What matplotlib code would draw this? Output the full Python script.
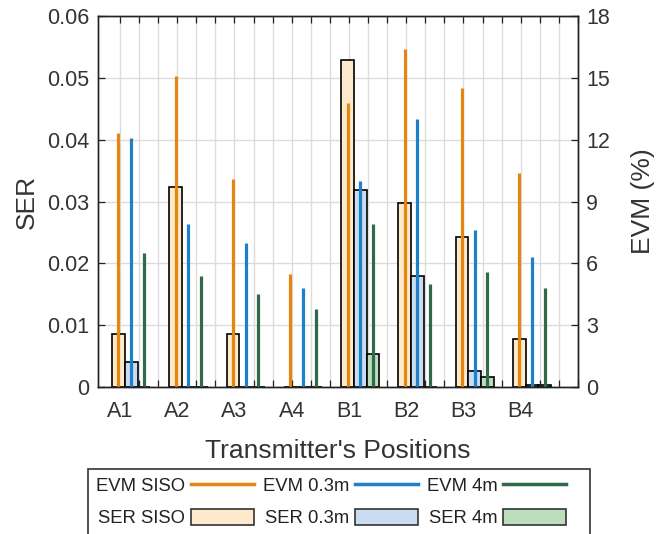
import numpy as np
import matplotlib
matplotlib.use("Agg")
import matplotlib.pyplot as plt
from matplotlib.patches import Patch, Rectangle
from matplotlib.lines import Line2D

plt.rcParams['font.family'] = ['Liberation Sans', 'DejaVu Sans']

positions = ["A1", "A2", "A3", "A4", "B1", "B2", "B3", "B4"]

ser_siso = [0.0086, 0.0324, 0.0086, 0.0, 0.0529, 0.0298, 0.0242, 0.0077]
ser_03m = [0.0041, 0.0, 0.0, 0.0, 0.0318, 0.0179, 0.0026, 0.0004]
ser_4m = [0.0, 0.0, 0.0, 0.0, 0.0053, 0.0, 0.0016, 0.0003]

evm_siso = [12.3, 15.1, 10.1, 5.5, 13.8, 16.4, 14.5, 10.4]
evm_03m = [12.1, 7.9, 7.0, 4.8, 10.0, 13.0, 7.6, 6.3]
evm_4m = [6.5, 5.4, 4.5, 3.8, 7.9, 5.0, 5.6, 4.8]

ser_ticks = [0, 0.01, 0.02, 0.03, 0.04, 0.05, 0.06]
ser_ticklabels = ["0", "0.01", "0.02", "0.03", "0.04", "0.05", "0.06"]
evm_ticks = [0, 3, 6, 9, 12, 15, 18]

c_or = '#E5860F'
c_bl = '#1E7FCB'
c_gr = '#2F6B4B'
f_or = '#FDE9CC'
f_bl = '#C9DCF2'
f_gr = '#BCDDBC'
txt = '#333333'

W, H = 657, 534
fig = plt.figure(figsize=(W / 100, H / 100), dpi=100)
ax = fig.add_axes([98 / W, (H - 387) / H, 480 / W, 371 / H])
ax2 = ax.twinx()

x = np.arange(1, len(positions) + 1)
bw = 0.222
offs = [-0.026, -0.026 + bw, -0.026 + 2 * bw]

ax.set_axisbelow(True)
ax.bar(x + offs[0], ser_siso, width=bw, color=f_or, edgecolor='black', linewidth=1.2, zorder=2)
ax.bar(x + offs[1], ser_03m, width=bw, color=f_bl, edgecolor='black', linewidth=1.2, zorder=2)
ax.bar(x + offs[2], ser_4m, width=bw, color=f_gr, edgecolor='black', linewidth=1.2, zorder=2)

ax2.vlines(x + offs[0], 0, evm_siso, color=c_or, linewidth=2.3)
ax2.vlines(x + offs[1], 0, evm_03m, color=c_bl, linewidth=2.3)
ax2.vlines(x + offs[2], 0, evm_4m, color=c_gr, linewidth=2.3)

ax.set_xlim(0.616, 9.0)
ax.set_ylim(0, 0.06)
ax2.set_ylim(0, 18)

xt = np.arange(1, 9.001, 1 / 3)
xl = []
for t in xt:
    k = int(round(t))
    xl.append(positions[k - 1] if abs(t - k) < 1e-6 and k <= len(positions) else "")
ax.set_xticks(xt)
ax.set_xticklabels(xl)
ax.set_yticks(ser_ticks)
ax.set_yticklabels(ser_ticklabels)
ax2.set_yticks(evm_ticks)

ax.grid(True, color='#dcdcdc', linewidth=1.0)
ax.tick_params(axis='x', direction='in', top=True, length=5, width=0.9, pad=10,
               labelsize=15.5, labelcolor=txt, color='#222222')
ax.tick_params(axis='y', direction='in', length=5, width=0.9, pad=6,
               labelsize=15.5, labelcolor=txt, color='#222222')
ax2.tick_params(axis='y', direction='in', length=5, width=0.9, pad=6,
                labelsize=15.5, labelcolor=txt, color='#222222')
for a in (ax, ax2):
    for s in a.spines.values():
        s.set_color('#222222')
        s.set_linewidth(1.0)

ax.set_xlabel("Transmitter's Positions", fontsize=19, color=txt, labelpad=12)
ax.set_ylabel("SER", fontsize=19, color=txt, labelpad=6)
ax2.set_ylabel("EVM (%)", fontsize=19, color=txt, labelpad=15)

handles = [
    Line2D([], [], color=c_or, linewidth=2.5),
    Patch(facecolor=f_or, edgecolor='#333333', linewidth=1.2),
    Line2D([], [], color=c_bl, linewidth=2.5),
    Patch(facecolor=f_bl, edgecolor='#333333', linewidth=1.2),
    Line2D([], [], color=c_gr, linewidth=2.5),
    Patch(facecolor=f_gr, edgecolor='#333333', linewidth=1.2),
]
labels = ["EVM SISO", "SER SISO", "EVM 0.3m", "SER 0.3m", "EVM 4m", "SER 4m"]
leg = fig.legend(handles, labels, ncol=3, loc='upper left',
                 bbox_to_anchor=(88 / W, (H - 469) / H), bbox_transform=fig.transFigure,
                 markerfirst=False, fontsize=13.3, handlelength=3.4, handleheight=0.9,
                 handletextpad=0.3, columnspacing=0.5, labelspacing=0.75,
                 borderpad=0.45, frameon=False, borderaxespad=0)
for t in leg.get_texts():
    t.set_color('#222222')

frame = Rectangle((88 / W, -0.05), (590 - 88) / W, 0.05 + (H - 469) / H,
                  transform=fig.transFigure, facecolor='white', edgecolor='#333333',
                  linewidth=1.2, zorder=leg.get_zorder() - 0.1)
fig.patches.append(frame)

fig.savefig("out.png", dpi=100)
